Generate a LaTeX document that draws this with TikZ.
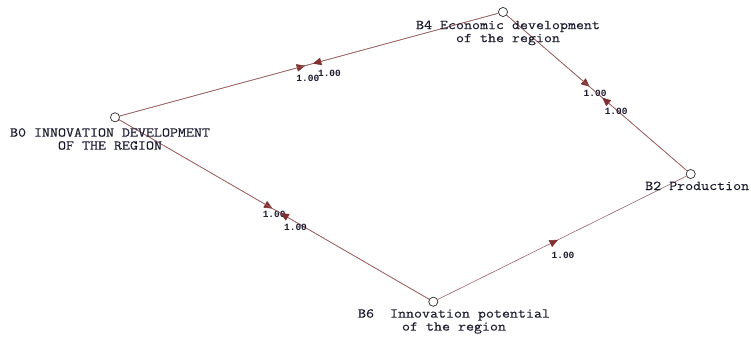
\documentclass[tikz,border=0pt]{standalone}
\usepackage{fontspec}
\setmonofont{Liberation Mono}
\newfontfamily\courierlike[FakeStretch=1.15,FakeBold=0.3]{Latin Modern Mono}
\usetikzlibrary{arrows.meta,decorations.markings}

\definecolor{linkred}{RGB}{158,100,100}
\definecolor{tipred}{RGB}{128,48,48}
\definecolor{inkblue}{RGB}{28,28,48}

\tikzset{
  vertex/.style={circle,draw=black!80,fill=white,inner sep=0pt,minimum size=9pt,line width=0.6pt},
  caption/.style={font=\courierlike\fontsize{13.5}{13}\selectfont,text=inkblue,align=center,inner sep=0pt},
  weight/.style={font=\ttfamily\bfseries\fontsize{9.5}{9.5}\selectfont,text=inkblue,inner sep=0pt},
  link/.style={draw=linkred,line width=0.6pt,postaction={decorate},
    decoration={markings,mark=at position #1 with {\arrow[color=tipred]{Triangle[length=8.5pt,width=7.5pt]}}}},
}

\begin{document}
\begin{tikzpicture}[x=1pt,y=-1pt]
  \useasboundingbox (0,0) rectangle (751,339);
  % vertices
  \node[vertex] (b0) at (115,117.3) {};
  \node[vertex] (b4) at (503,12) {};
  \node[vertex] (b2) at (690.7,174) {};
  \node[vertex] (b6) at (433.3,301.7) {};
  % links
  \draw[link=0.49] (b0) -- (b4) node[weight,pos=0.497,yshift=-13pt] {1.00};
  \draw[link=0.49] (b4) -- (b0) node[weight,pos=0.446,yshift=-14pt] {1.00};
  \draw[link=0.46] (b4) -- (b2) node[weight,pos=0.49,yshift=-1.6pt] {1.00};
  \draw[link=0.47] (b2) -- (b4) node[weight,pos=0.393,yshift=-1.6pt] {1.00};
  \draw[link=0.495] (b0) -- (b6) node[weight,pos=0.5,yshift=-4.6pt] {1.00};
  \draw[link=0.48] (b6) -- (b0) node[weight,pos=0.431,yshift=-5pt] {1.00};
  \draw[link=0.484] (b6) -- (b2) node[weight,pos=0.504,yshift=-17.6pt] {1.00};
  % vertices on top of links
  \foreach \v in {b0,b4,b2,b6}
    \node[vertex] at (\v) {};
  % captions
  \node[caption,anchor=north] (b0txt) at (110,128) {B0 INNOVATION DEVELOPMENT\\OF THE REGION};
  \node[caption,anchor=north] (b4txt) at (508,20.5) {B4 Economic development\\of the region};
  \node[caption,anchor=base west] (b2txt) at (645,190) {B2 Production};
  \node[caption,anchor=north] (b6txt) at (454,309) {B6\ \ Innovation potential\\of the region};
\end{tikzpicture}
\end{document}
